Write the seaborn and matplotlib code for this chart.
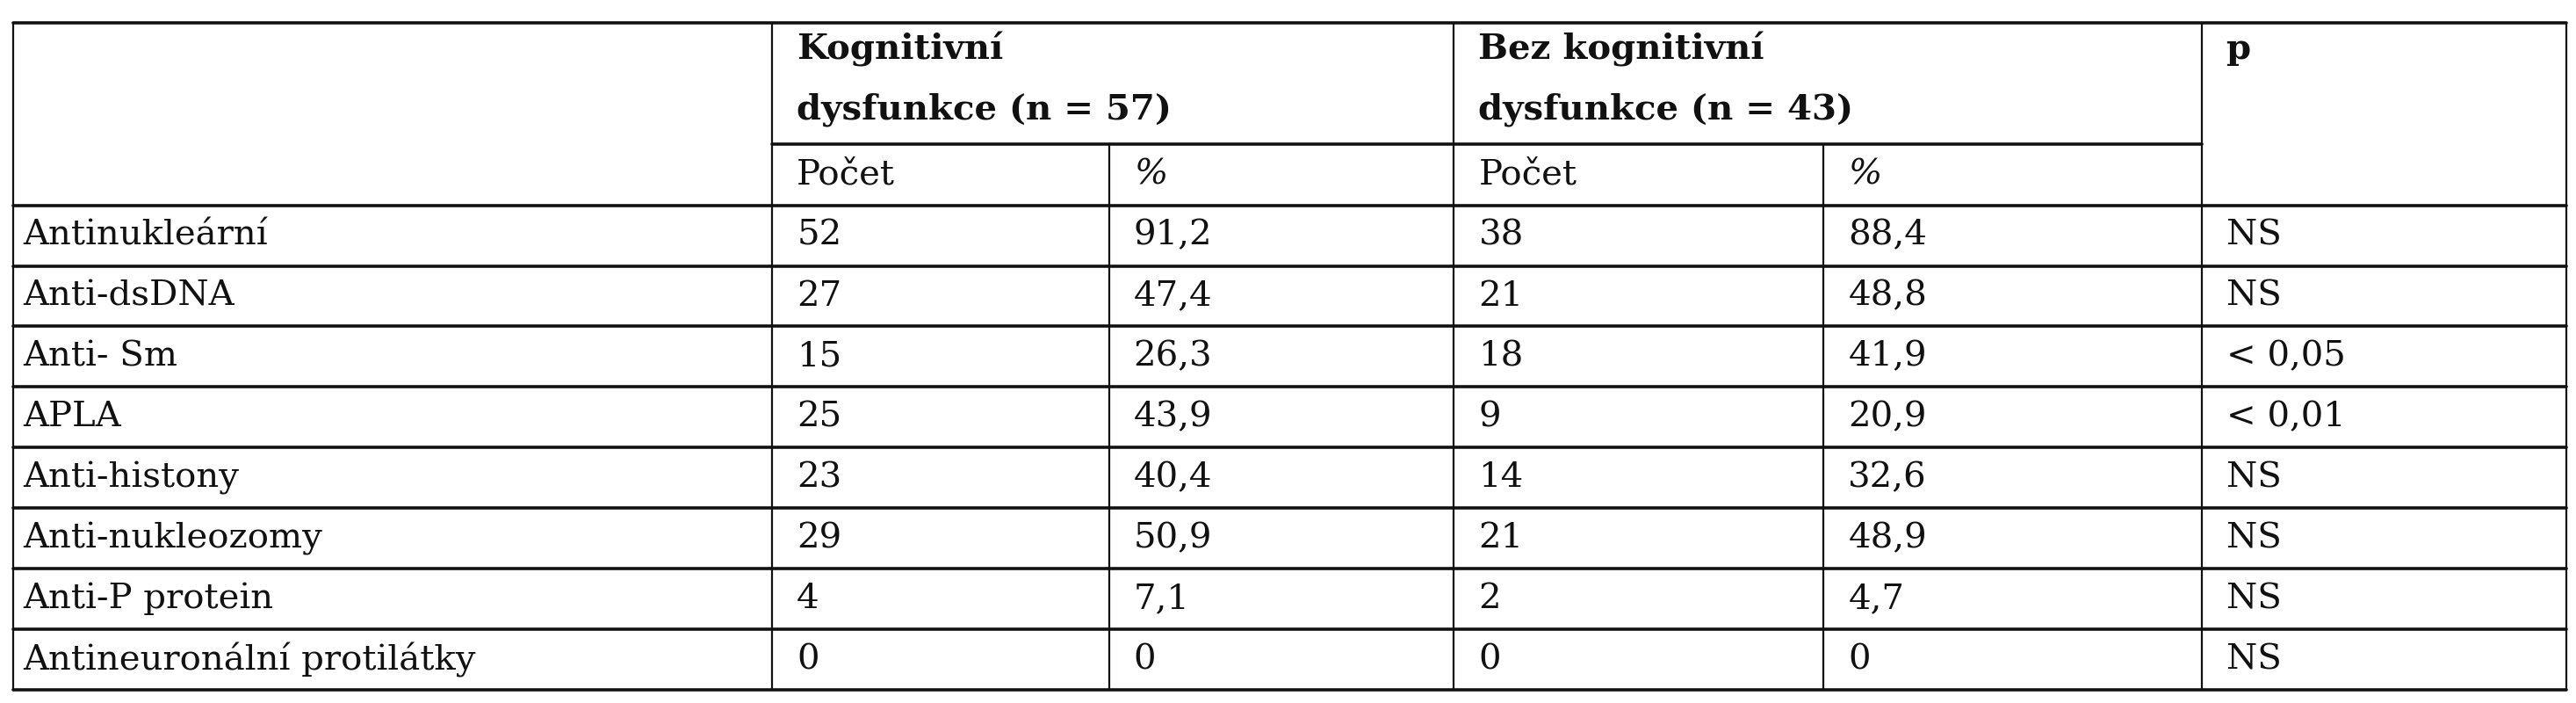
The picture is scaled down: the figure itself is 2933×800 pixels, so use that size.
import matplotlib
matplotlib.use("Agg")
import matplotlib.pyplot as plt
import seaborn as sns

categories = ["Antinukleární", "Anti-dsDNA", "Anti- Sm", "APLA", "Anti-histony",
              "Anti-nukleozomy", "Anti-P protein", "Antineuronální protilátky"]
kog_pocet = ["52", "27", "15", "25", "23", "29", "4", "0"]
kog_pct = ["91,2", "47,4", "26,3", "43,9", "40,4", "50,9", "7,1", "0"]
bez_pocet = ["38", "21", "18", "9", "14", "21", "2", "0"]
bez_pct = ["88,4", "48,8", "41,9", "20,9", "32,6", "48,9", "4,7", "0"]
p_vals = ["NS", "NS", "< 0,05", "< 0,01", "NS", "NS", "NS", "NS"]
group_headers = ["Kognitivní\ndysfunkce (n = 57)", "Bez kognitivní\ndysfunkce (n = 43)", "p"]
sub_headers = ["Počet", "%", "Počet", "%"]

sns.set_theme(style="white")
plt.rcParams['font.family'] = ['DejaVu Serif', 'Liberation Serif']

W, H = 1568, 428
fig = plt.figure(figsize=(29.33, 8), dpi=100)
ax = fig.add_axes([0, 0, 1, 1])
ax.set_xlim(0, W)
ax.set_ylim(H, 0)
ax.axis("off")

xs = [8, 470, 675, 885, 1110, 1340, 1562]
top, mid, hdr = 14, 88, 125
rh = (420 - hdr) / len(categories)
ys = [hdr + i * rh for i in range(len(categories) + 1)]
thick, thin = 2.6, 1.6
fs = 29
col = "#111111"

ax.plot([xs[0], xs[-1]], [top, top], color=col, lw=thick)
ax.plot([xs[1], xs[5]], [mid, mid], color=col, lw=thick)
for y in ys:
    ax.plot([xs[0], xs[-1]], [y, y], color=col, lw=thick)
for i, x in enumerate(xs):
    if i in (2, 4):
        ax.plot([x, x], [mid, ys[-1]], color=col, lw=thin)
    else:
        ax.plot([x, x], [top, ys[-1]], color=col, lw=thin)

pad = 15
pads = [6, pad, pad, pad, pad, pad]
h0 = group_headers[0].split("\n")
h1 = group_headers[1].split("\n")
for txt, x, y in [(h0[0], xs[1], 30), (h0[1], xs[1], 67), (h1[0], xs[3], 30),
                  (h1[1], xs[3], 67), (group_headers[2], xs[5], 30)]:
    ax.text(x + pad, y, txt, fontsize=fs, fontweight="bold", va="center", color=col)
for j, s in enumerate(sub_headers):
    ax.text(xs[1 + j] + pad, (mid + hdr) / 2, s, fontsize=fs, va="center", color=col,
            fontstyle="italic" if s == "%" else "normal")

cols = [categories, kog_pocet, kog_pct, bez_pocet, bez_pct, p_vals]
for i in range(len(categories)):
    yc = (ys[i] + ys[i + 1]) / 2
    for j, c in enumerate(cols):
        ax.text(xs[j] + pads[j], yc, c[i], fontsize=fs, va="center", color=col)

fig.savefig("out.png", dpi=100, facecolor="white")
